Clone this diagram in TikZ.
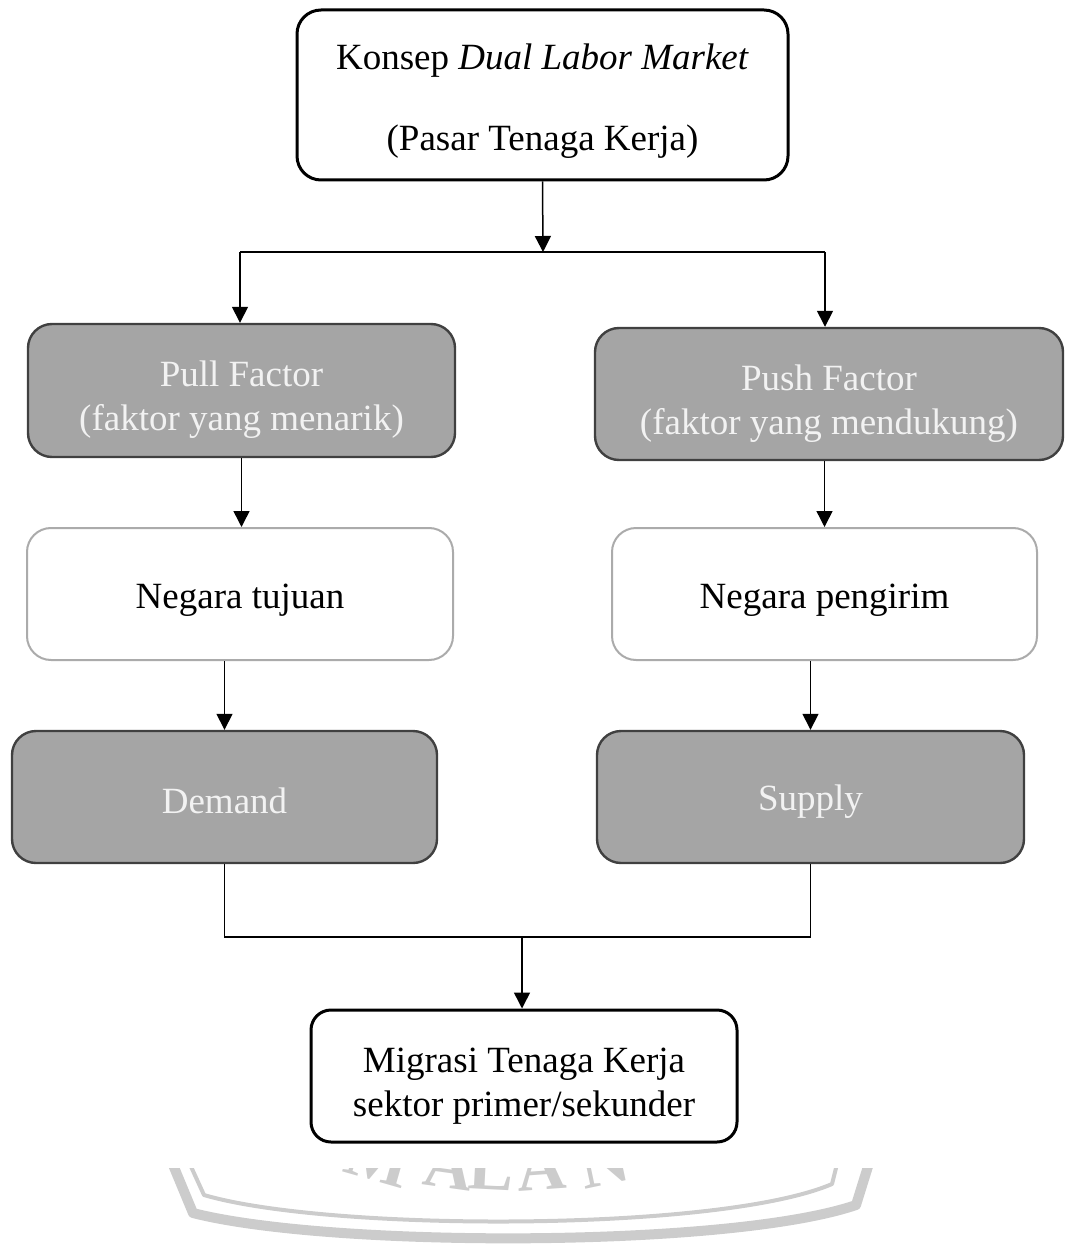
\documentclass[tikz,border=0pt]{standalone}
\usepackage{fontspec}
\setmainfont{Liberation Serif}
\usetikzlibrary{arrows.meta}
\definecolor{boxgray}{HTML}{A5A5A5}
\definecolor{edgegray}{HTML}{404040}
\definecolor{lightedge}{HTML}{ABABAB}
\definecolor{markgray}{HTML}{CCCCCC}
\newcommand{\topstrut}[1]{\rule{0pt}{#1}}
\begin{document}
\begin{tikzpicture}
[x=0.5pt,y=-0.5pt,
basebox/.style={rectangle,rounded corners=12pt,align=center,inner sep=2pt,
font=\fontsize{18.5}{22}\selectfont},
blackbox/.style={basebox,draw=black,line width=1.5pt,fill=white},
graybox/.style={basebox,draw=edgegray,line width=1.2pt,fill=boxgray,
text=white!95!black},
whitebox/.style={basebox,draw=lightedge,line width=1pt,fill=white},
conn/.style={line width=0.75pt},
arr/.style={conn,-{Triangle[length=8pt,width=8pt]}},
wmletter/.style={text=markgray,font=\fontsize{34}{34}\bfseries\selectfont,
inner sep=0pt,anchor=base}
]
\useasboundingbox (0,0) rectangle (1065,1245);
\node [blackbox,minimum width=245.5pt,minimum height=85pt] (konsep) at (542.5,95)
{\topstrut{19pt}Konsep \textit{Dual Labor Market}\\[18.5pt](Pasar Tenaga Kerja)};
\node [graybox,minimum width=213.5pt,minimum height=66.5pt] (pull) at (241.5,390.5)
{\topstrut{22pt}Pull Factor\\(faktor yang menarik)};
\node [graybox,minimum width=234pt,minimum height=66pt] (push) at (829,394)
{\topstrut{22pt}Push Factor\\(faktor yang mendukung)};
\node [whitebox,minimum width=213pt,minimum height=66pt] (tujuan) at (240,594)
{\topstrut{18pt}Negara tujuan};
\node [whitebox,minimum width=212.5pt,minimum height=66pt] (pengirim) at (824.5,594)
{\topstrut{18pt}Negara pengirim};
\node [graybox,minimum width=212.5pt,minimum height=66pt] (demand) at (224.5,797)
{\topstrut{17pt}Demand};
\node [graybox,minimum width=213.5pt,minimum height=66pt] (supply) at (810.5,797)
{\topstrut{17pt}Supply};
\node [blackbox,minimum width=213pt,minimum height=66pt,rounded corners=10pt]
(migrasi) at (524,1076) {\topstrut{22pt}Migrasi Tenaga Kerja\\sektor primer/sekunder};
\coordinate (split) at (543,252);
\coordinate (splitL) at (240,252);
\coordinate (splitR) at (825,252);
\coordinate (join) at (522,937);
\draw [arr] (konsep.south) -- (split);
\draw [conn] (splitL) -- (splitR);
\draw [arr] (splitL) -- (splitL |- pull.north);
\draw [arr] (splitR) -- (splitR |- push.north);
\draw [arr] (pull.south) -- (pull.south |- tujuan.north);
\draw [arr] (pengirim.north |- push.south) -- (pengirim.north);
\draw [arr] (demand.north |- tujuan.south) -- (demand.north);
\draw [arr] (supply.north |- pengirim.south) -- (supply.north);
\draw [conn] (demand.south) |- (join) -| (supply.south);
\draw [arr] (join) -- (join |- migrasi.north);
\begin{scope}
\clip (0,1168) rectangle (1065,1245);
\draw [markgray,line width=5pt,line join=round]
(171,1160) -- (193,1213) .. controls (330,1248) and (730,1248) .. (856,1205)
-- (870,1160);
\draw [markgray,line width=2pt,line join=round]
(188,1160) -- (204,1195) .. controls (330,1232) and (720,1232) .. (832,1184)
-- (838,1160);
\foreach \ch/\xx/\yy/\rr [count=\i] in
{M/372/1180/-16,A/446/1188/-8,L/490/1190/-3,A/543/1190/4,N/609/1184/12}
\node [wmletter,rotate=\rr] (wm\i) at (\xx,\yy) {\ch};
\end{scope}
\end{tikzpicture}
\end{document}
